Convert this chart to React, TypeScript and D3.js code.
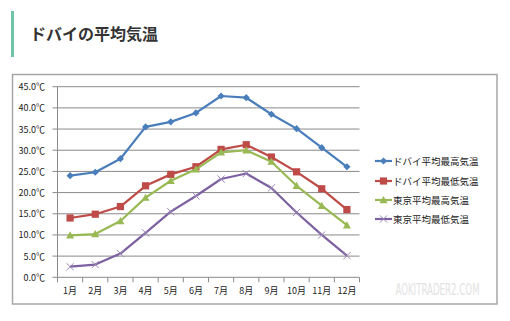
import React from "react";
import * as d3 from "d3";

const months = ["1月","2月","3月","4月","5月","6月","7月","8月","9月","10月","11月","12月"];
const dubaiMax = [24.0, 24.8, 28.0, 35.5, 36.7, 38.8, 42.8, 42.4, 38.5, 35.1, 30.6, 26.1];
const dubaiMin = [14.0, 14.9, 16.7, 21.6, 24.3, 26.1, 30.2, 31.3, 28.4, 24.9, 20.9, 16.0];
const tokyoMax = [9.9, 10.2, 13.3, 18.8, 22.8, 25.5, 29.5, 30.0, 27.3, 21.6, 16.9, 12.3];
const tokyoMin = [2.5, 3.0, 5.6, 10.5, 15.5, 19.2, 23.2, 24.5, 21.1, 15.3, 10.0, 5.1];
const seriesNames = ["ドバイ平均最高気温","ドバイ平均最低気温","東京平均最高気温","東京平均最低気温"];
const seriesColors = ["#4a7ebb","#be4b48","#98b954","#7d60a0"];
const yTicks = [0,5,10,15,20,25,30,35,40,45];

const FONT = "'Noto Sans CJK JP', 'Noto Sans', sans-serif";

function Marker({ type, x, y, color }: { type: number; x: number; y: number; color: string }) {
  if (type === 0) {
    const s = 3.6;
    return <path d={`M${x},${y - s}L${x + s},${y}L${x},${y + s}L${x - s},${y}Z`} fill={color} />;
  }
  if (type === 1) {
    const s = 3.6;
    return <rect x={x - s} y={y - s} width={2 * s} height={2 * s} fill={color} />;
  }
  if (type === 2) {
    const s = 4;
    return <path d={`M${x},${y - s}L${x + s},${y + s * 0.8}L${x - s},${y + s * 0.8}Z`} fill={color} />;
  }
  const s = 3.6;
  return (
    <path d={`M${x - s},${y - s}L${x + s},${y + s}M${x + s},${y - s}L${x - s},${y + s}`} stroke="#9a86b8" strokeWidth={1} fill="none" />
  );
}

export default function App() {
  const W = 510, H = 321;
  const left = 57.5, right = 359.5, top = 86.7, bottom = 277.3;
  const x = d3.scaleBand<string>().domain(months).range([left, right]);
  const y = d3.scaleLinear().domain([0, 45]).range([bottom, top]);
  const data = [dubaiMax, dubaiMin, tokyoMax, tokyoMin];
  const line = d3.line<number>()
    .x((_, i) => (x(months[i]) as number) + x.bandwidth() / 2)
    .y((d) => y(d));
  const tickXs = months.map((m) => x(m) as number).concat([right]);
  const legendRows = [161, 181, 200, 219];

  return (
    <svg width={W} height={H} style={{ position: "absolute", left: 0, top: 0, background: "#fff" }} fontFamily={FONT}>
      <rect x={0} y={0} width={W} height={H} fill="#fff" />
      <rect x={11} y={11} width={3} height={46} fill="#6fc3a6" />
      <text x={30} y={40} fontSize={16} fontWeight="bold" fill="#333">ドバイの平均気温</text>

      <rect x={12.5} y={74.5} width={484.5} height={229.5} fill="#fff" stroke="#a6a6a6" strokeWidth={1.5} />

      {yTicks.map((t) => (
        <g key={t}>
          <line x1={left} x2={right} y1={y(t)} y2={y(t)} stroke="#8a8a8a" strokeWidth={1} />
          <line x1={left - 5} x2={left} y1={y(t)} y2={y(t)} stroke="#8a8a8a" strokeWidth={1} />
          <text x={45} y={y(t) + 3.5} fontSize={9} textAnchor="end" fill="#222">{t.toFixed(1)}℃</text>
        </g>
      ))}
      <line x1={left} x2={left} y1={top} y2={bottom} stroke="#8a8a8a" strokeWidth={1} />
      {tickXs.map((tx, i) => (
        <line key={i} x1={tx} x2={tx} y1={bottom} y2={bottom + 5} stroke="#8a8a8a" strokeWidth={1} />
      ))}
      {months.map((m) => (
        <text key={m} x={(x(m) as number) + x.bandwidth() / 2} y={294} fontSize={9} textAnchor="middle" fill="#222">{m}</text>
      ))}

      {data.map((s, si) => (
        <g key={si}>
          <path d={line(s) || ""} fill="none" stroke={seriesColors[si]} strokeWidth={2.2} strokeLinejoin="round" />
          {s.map((v, i) => (
            <Marker key={i} type={si} x={(x(months[i]) as number) + x.bandwidth() / 2} y={y(v)} color={seriesColors[si]} />
          ))}
        </g>
      ))}

      {seriesNames.map((n, i) => (
        <g key={n}>
          <line x1={375} x2={392} y1={legendRows[i]} y2={legendRows[i]} stroke={seriesColors[i]} strokeWidth={2.2} />
          <Marker type={i} x={383.5} y={legendRows[i]} color={seriesColors[i]} />
          <text x={393} y={legendRows[i] + 3.5} fontSize={9.5} fill="#222">{n}</text>
        </g>
      ))}

      <g transform="translate(437.5,294.5) scale(0.74,1.2)">
        <text x={0} y={0} fontSize={13} textAnchor="middle" fill="#e2e2e2" fontFamily="'DejaVu Sans Condensed', 'Liberation Sans Narrow', sans-serif">AOKITRADER2.COM</text>
      </g>
    </svg>
  );
}
